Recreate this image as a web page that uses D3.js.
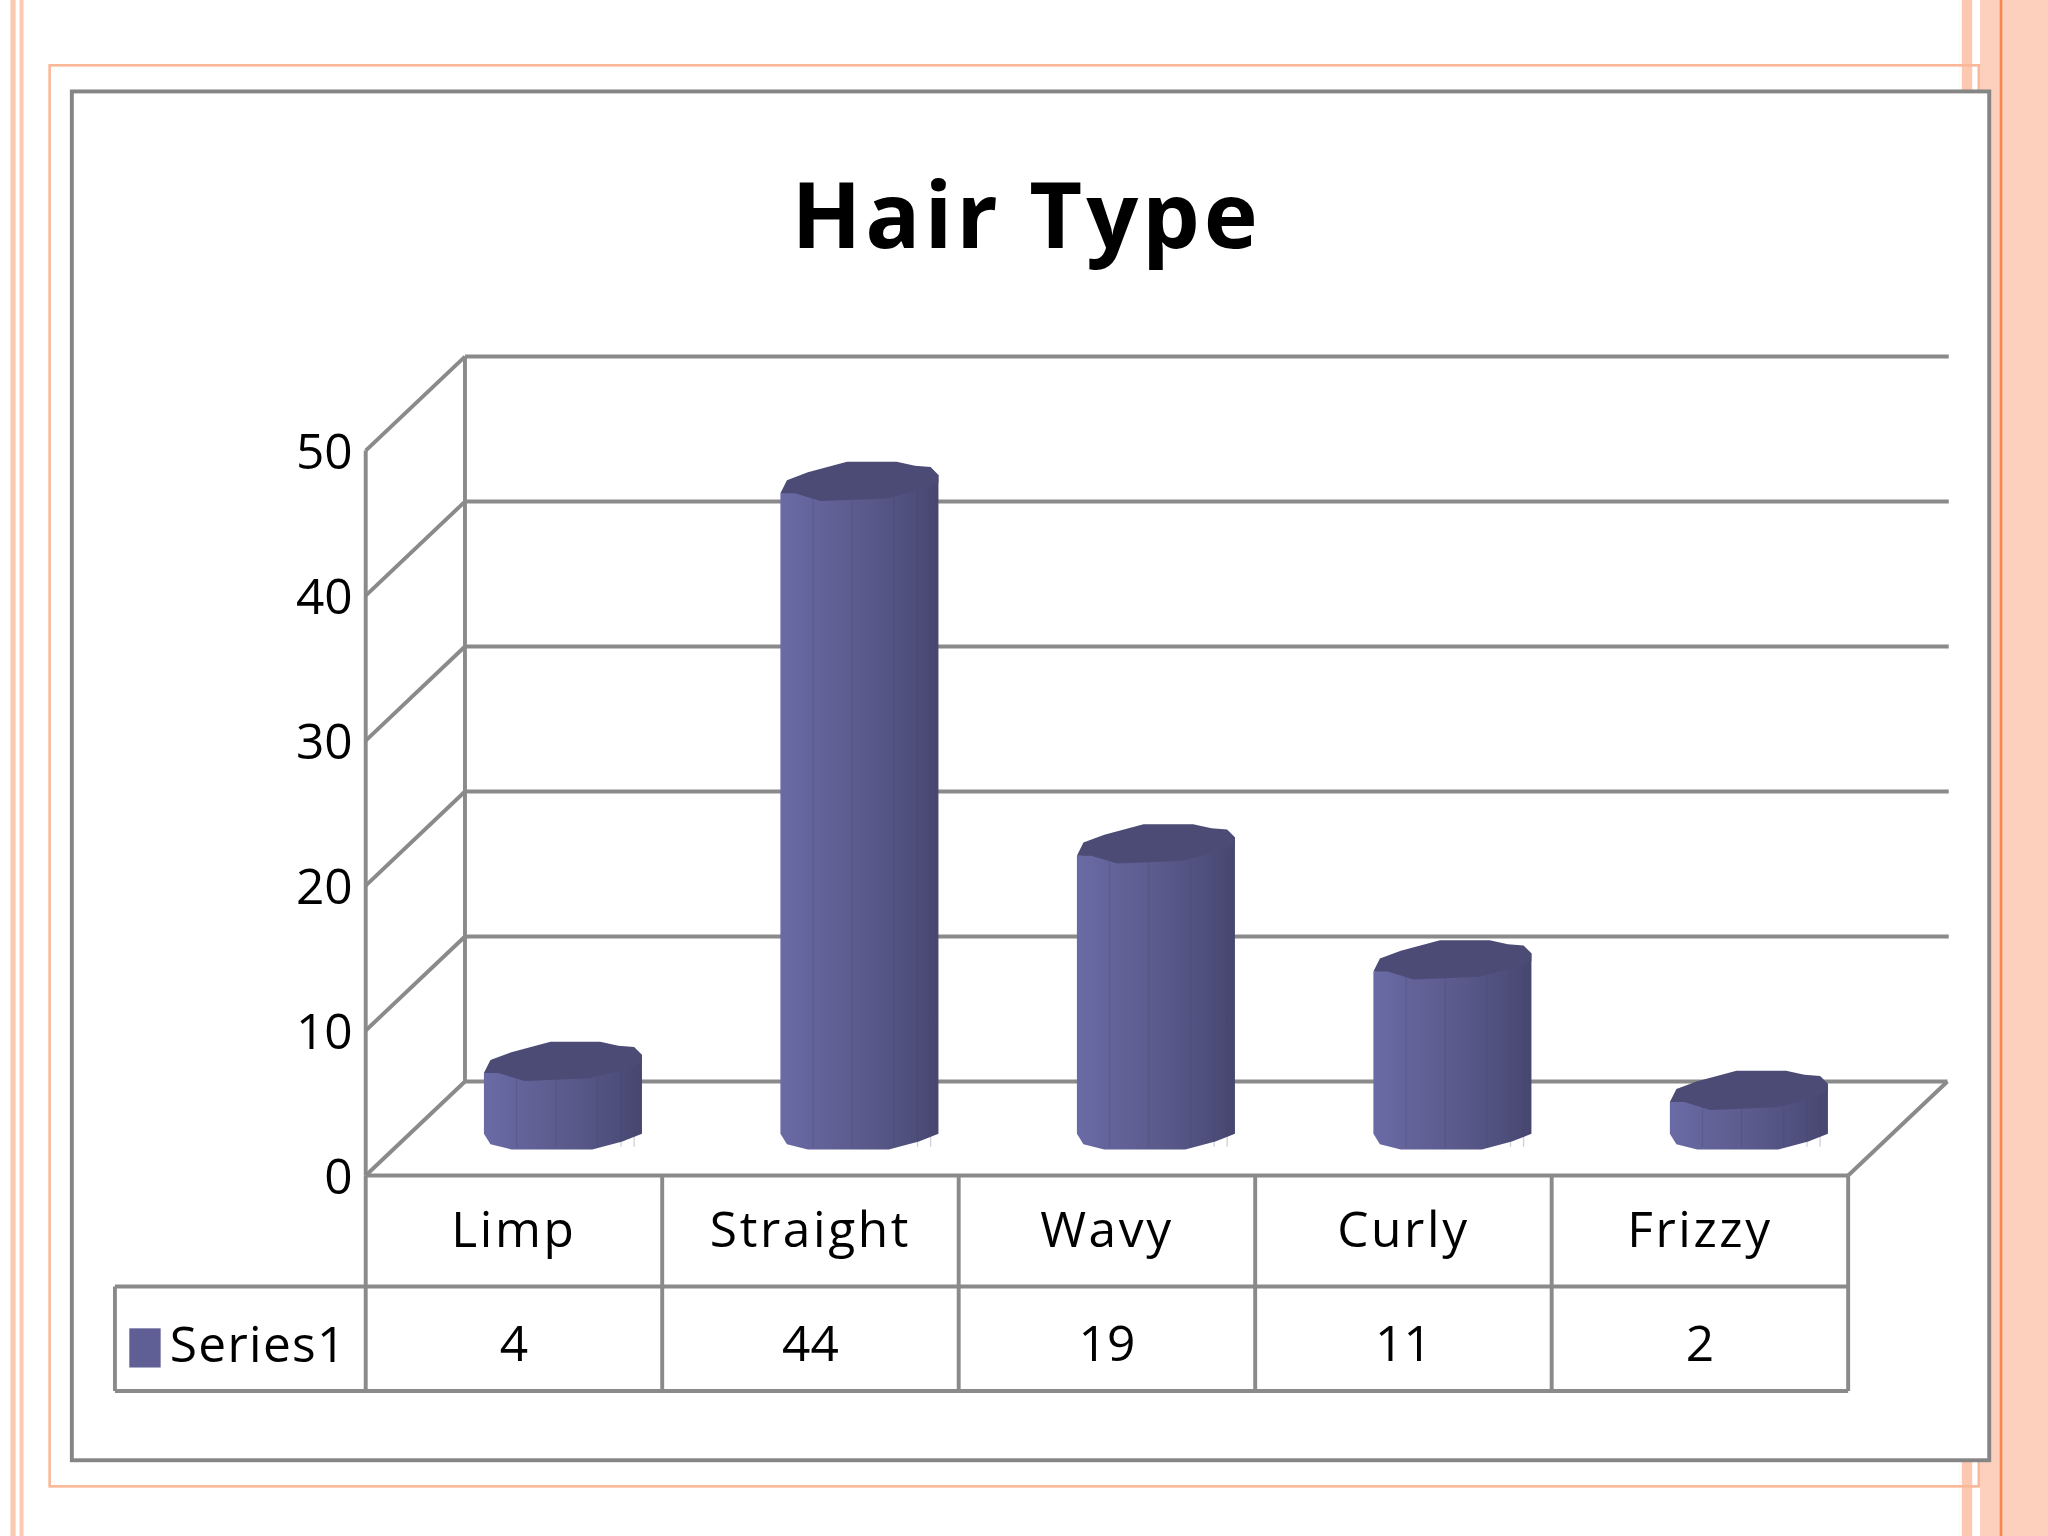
<!DOCTYPE html>
<html><head><meta charset="utf-8">
<script src="https://cdn.jsdelivr.net/npm/d3@7"></script>
<style>body{margin:0;background:#fff}svg{display:block}</style></head>
<body><svg id="c" width="2048" height="1536" viewBox="0 0 1568 1176"></svg>
<script>
const categories = ["Limp","Straight","Wavy","Curly","Frizzy"];
const values = [4,44,19,11,2];
const seriesName = "Series1";
const ticks = [0,10,20,30,40,50];
const title = "Hair Type";

const svg = d3.select("#c");
const font = "'Open Sans', sans-serif";
// slide decorations
svg.append("rect").attr("x",1500).attr("y",0).attr("width",68).attr("height",1176).attr("fill","#fdd0bd");
svg.append("rect").attr("x",1500).attr("y",0).attr("width",16).attr("height",1176).attr("fill","#fff");
svg.append("rect").attr("x",1502).attr("y",0).attr("width",8).attr("height",1176).attr("fill","#fcc8b2");
svg.append("line").attr("x1",1532).attr("x2",1532).attr("y1",0).attr("y2",1176).attr("stroke","#f4884e").attr("stroke-width",2);
svg.append("rect").attr("x",8).attr("y",0).attr("width",4).attr("height",1176).attr("fill","#fcc8b2");
svg.append("rect").attr("x",15).attr("y",0).attr("width",3).attr("height",1176).attr("fill","#fcc8b2");
svg.append("rect").attr("x",38).attr("y",50).attr("width",1477).attr("height",1088).attr("fill","none").attr("stroke","#fbb898").attr("stroke-width",2);
svg.append("rect").attr("x",55).attr("y",70).attr("width",1468).attr("height",1048).attr("fill","#fff").attr("stroke","#858585").attr("stroke-width",3);

svg.append("text").attr("x",786).attr("y",190).attr("text-anchor","middle").attr("font-family",font)
  .attr("font-weight","bold").attr("font-size",70).attr("letter-spacing",3).text(title);

const x0=280, x1=1415, dx=76, dy=-72;
const y = d3.scaleLinear().domain([0,50]).range([900,345]);
const x = d3.scaleBand().domain(categories).range([x0,x1]);
const grid = "#8a8a8a";
ticks.forEach(t=>{
  if(t>0) svg.append("line").attr("x1",x0+dx).attr("x2",x1+dx+1).attr("y1",y(t)+dy).attr("y2",y(t)+dy).attr("stroke",grid).attr("stroke-width",3);
  svg.append("line").attr("x1",x0).attr("y1",y(t)).attr("x2",x0+dx).attr("y2",y(t)+dy).attr("stroke",grid).attr("stroke-width",3);
  svg.append("text").attr("x",270).attr("y",y(t)+14).attr("text-anchor","end").attr("font-family",font).attr("font-size",38).text(t);
});
svg.append("line").attr("x1",x0).attr("x2",x0).attr("y1",y(50)).attr("y2",y(0)).attr("stroke",grid).attr("stroke-width",3);
svg.append("line").attr("x1",x0+dx).attr("x2",x0+dx).attr("y1",y(50)+dy).attr("y2",y(0)+dy).attr("stroke",grid).attr("stroke-width",3);
svg.append("line").attr("x1",x0+dx).attr("x2",x1+dx).attr("y1",y(0)+dy).attr("y2",y(0)+dy).attr("stroke",grid).attr("stroke-width",3);
svg.append("line").attr("x1",x1).attr("y1",y(0)).attr("x2",x1+dx).attr("y2",y(0)+dy).attr("stroke",grid).attr("stroke-width",3);

// bars
const defs = svg.append("defs");
const g = defs.append("linearGradient").attr("id","bg");
[["0%","#6a6aa6"],["40%","#5e5e92"],["80%","#50507e"],["100%","#46466f"]].forEach(s=>g.append("stop").attr("offset",s[0]).attr("stop-color",s[1]));
const yMid = v => y(v) + dy/2;
categories.forEach((c,i)=>{
  const cx = x(c)+x.bandwidth()/2 + dx/2;
  const top = yMid(values[i]), bot = yMid(0);
  const bar = svg.append("g").attr("transform",`translate(${cx},0)`);
  bar.append("path").attr("fill","url(#bg)").attr("d",
    `M-61,${top+2} L-61,${bot+4} L-56,${bot+12} L-40,${bot+16} L22,${bot+16} L45,${bot+10} L60,${bot+4} L60,${top-12} Z`);
  [-36,-6,26,44,54].forEach(o=>bar.append("line").attr("x1",o).attr("x2",o).attr("y1",top).attr("y2",bot+14).attr("stroke","#44446c").attr("stroke-opacity",0.25));
  bar.append("path").attr("fill","#4b4b76").attr("d",
    `M-61,${top+2} L-56,${top-8} L-40,${top-14} L-10,${top-22} L28,${top-22} L42,${top-19} L54,${top-18} L60,${top-12} L60,${top-6} L50,${top-2} L20,${top+6} L-30,${top+8} L-50,${top+2} Z`);
});

// table
const tb = "#8a8a8a";
const rowY=[900,985,1065];
svg.append("line").attr("x1",x0).attr("x2",x1).attr("y1",900).attr("y2",900).attr("stroke",tb).attr("stroke-width",3);
svg.append("line").attr("x1",88).attr("x2",x1).attr("y1",985).attr("y2",985).attr("stroke",tb).attr("stroke-width",3);
svg.append("line").attr("x1",88).attr("x2",x1).attr("y1",1065).attr("y2",1065).attr("stroke",tb).attr("stroke-width",3);
svg.append("line").attr("x1",88).attr("x2",88).attr("y1",985).attr("y2",1065).attr("stroke",tb).attr("stroke-width",3);
[...categories.map(c=>x(c)), x1].forEach(px=>svg.append("line").attr("x1",px).attr("x2",px).attr("y1",900).attr("y2",1065).attr("stroke",tb).attr("stroke-width",3));
categories.forEach((c,i)=>{
  const cx=x(c)+x.bandwidth()/2;
  svg.append("text").attr("x",cx).attr("y",955).attr("text-anchor","middle").attr("font-family",font).attr("font-size",38).attr("letter-spacing",2).text(c);
  svg.append("text").attr("x",cx).attr("y",1042).attr("text-anchor","middle").attr("font-family",font).attr("font-size",38).text(values[i]);
});
svg.append("rect").attr("x",99).attr("y",1017).attr("width",24).attr("height",30).attr("fill","#5f5f95");
svg.append("text").attr("x",130).attr("y",1043).attr("font-family",font).attr("font-size",38).attr("letter-spacing",1).text(seriesName);
</script></body></html>
